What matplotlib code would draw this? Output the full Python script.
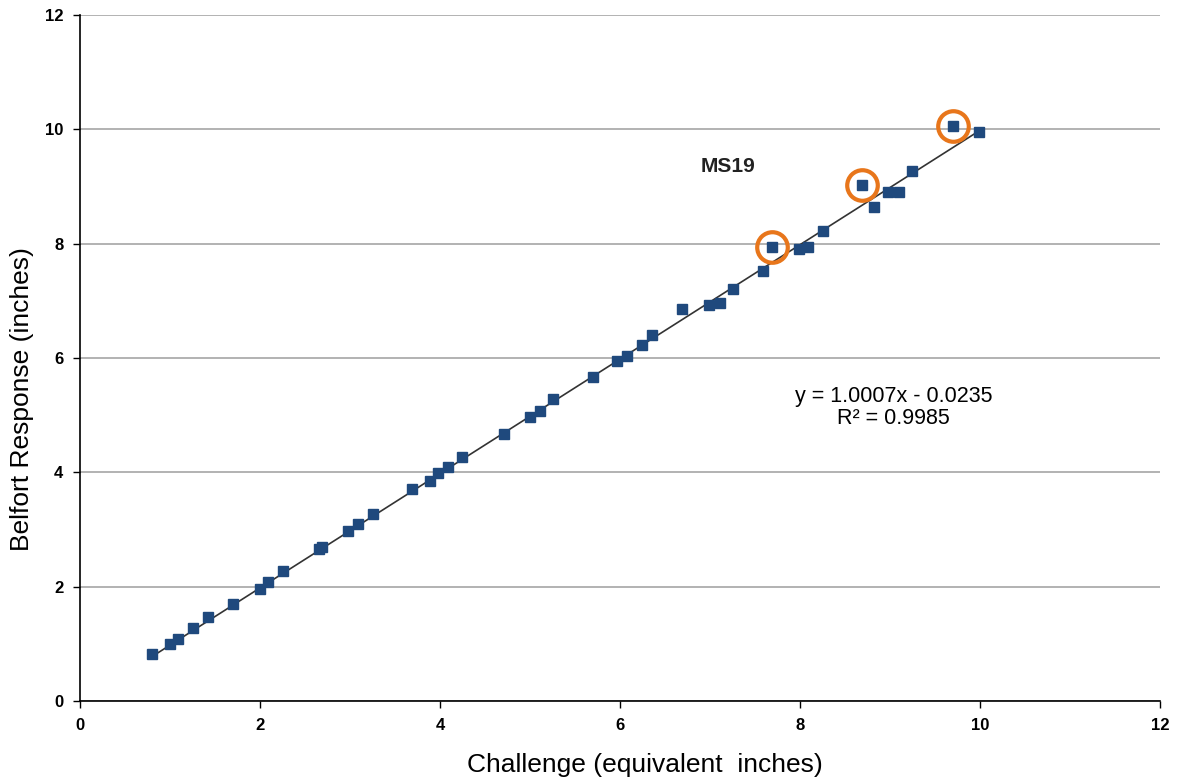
import matplotlib
matplotlib.use("Agg")
import matplotlib.pyplot as plt
import numpy as np

plt.rcParams['font.family'] = ['Liberation Sans', 'DejaVu Sans']

challenge = [0.80, 1.00, 1.09, 1.25, 1.42, 1.70, 2.00, 2.09, 2.25, 2.65, 2.69, 2.98, 3.09, 3.25,
             3.69, 3.89, 3.98, 4.09, 4.24, 4.71, 5.00, 5.11, 5.25, 5.70, 5.97, 6.08, 6.24, 6.35,
             6.69, 6.99, 7.11, 7.25, 7.59, 7.69, 7.99, 8.09, 8.25, 8.69, 8.82, 8.98, 9.10, 9.24,
             9.70, 9.99]
response = [0.82, 1.00, 1.08, 1.28, 1.47, 1.70, 1.96, 2.08, 2.27, 2.66, 2.69, 2.97, 3.09, 3.27,
            3.71, 3.85, 3.99, 4.09, 4.27, 4.67, 4.97, 5.07, 5.28, 5.66, 5.94, 6.03, 6.22, 6.40,
            6.85, 6.92, 6.96, 7.20, 7.52, 7.95, 7.90, 7.95, 8.22, 9.02, 8.65, 8.90, 8.90, 9.27,
            10.05, 9.95]
circled_x = [7.69, 8.69, 9.70]
circled_y = [7.95, 9.02, 10.05]
slope = 1.0007
intercept = -0.0235
r2 = 0.9985

fig = plt.figure(figsize=(11.77, 7.78), dpi=100)
ax = fig.add_axes([0.068, 0.099, 0.9176, 0.8817])

ax.set_xlim(0, 12)
ax.set_ylim(0, 12)
ax.set_xticks(np.arange(0, 13, 2))
ax.set_yticks(np.arange(0, 13, 2))
ax.yaxis.grid(True, color='#a6a6a6', linewidth=1.2)
ax.set_axisbelow(True)
for s in ['top', 'right']:
    ax.spines[s].set_visible(False)
ax.spines['left'].set_linewidth(1.2)
ax.spines['bottom'].set_linewidth(1.2)
ax.tick_params(axis='both', direction='out', length=5, width=1, labelsize=12, pad=7)
for lab in ax.get_xticklabels() + ax.get_yticklabels():
    lab.set_fontweight('bold')

xl = np.array([min(challenge), max(challenge)])
ax.plot(xl, slope * xl + intercept, color='#333333', linewidth=1.2, zorder=2)
ax.plot(challenge, response, linestyle='none', marker='s', markersize=6.5,
        color='#1f497d', zorder=3)
ax.plot(circled_x, circled_y, linestyle='none', marker='o', markersize=22,
        markerfacecolor='none', markeredgecolor='#e8761b', markeredgewidth=3, zorder=4)

ax.text(7.2, 9.35, 'MS19', fontsize=15, fontweight='bold', color='#222222',
        ha='center', va='center')
ax.text(9.04, 5.14, f'y = {slope:.4f}x - {abs(intercept):.4f}\nR² = {r2:.4f}',
        fontsize=15.5, ha='center', va='center', linespacing=1.05)

ax.set_xlabel('Challenge (equivalent  inches)', fontsize=19)
ax.xaxis.set_label_coords(0.523, -0.076)
ax.set_ylabel('Belfort Response (inches)', fontsize=19)
ax.yaxis.set_label_coords(-0.0426, 0.44)

fig.savefig('out.png', dpi=100)
